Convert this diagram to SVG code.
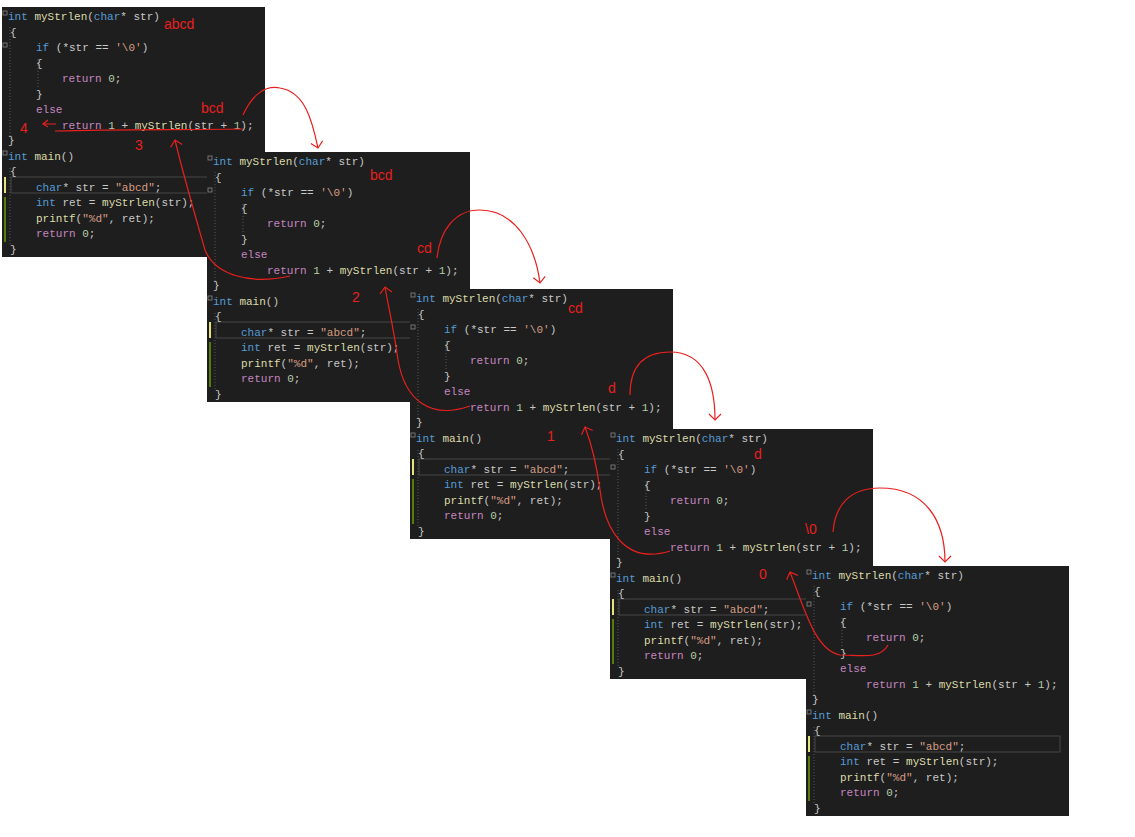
<svg xmlns="http://www.w3.org/2000/svg" xmlns:xlink="http://www.w3.org/1999/xlink" width="1135" height="837" viewBox="0 0 1135 837">
<style>
.c{font-family:"Liberation Mono",monospace;font-size:11px;fill:#c8c8c8}
.k{fill:#569cd6}.r{fill:#c586c0}.f{fill:#dcdcaa}.s{fill:#d69d85}.n{fill:#b5cea8}.v{fill:#b4b4b4}
.red{font-family:"Liberation Sans",sans-serif;font-size:14px;fill:#e8201e}
.ln{fill:none;stroke:#e8201e;stroke-width:1.2}
</style>
<defs>
<marker id="ah" markerWidth="14" markerHeight="14" refX="7" refY="7" orient="auto" markerUnits="userSpaceOnUse"><path d="M1,1 L7,7 L1,13" fill="none" stroke="#e8201e" stroke-width="1.2"/></marker>
<g id="code">
<rect x="0" y="0" width="263" height="250" fill="#1e1e1e"/>
<line x1="8" y1="20" x2="8" y2="130" stroke="#555" stroke-dasharray="1,2"/>
<line x1="8" y1="161" x2="8" y2="238" stroke="#555" stroke-dasharray="1,2"/>
<line x1="36" y1="52" x2="36" y2="82" stroke="#555" stroke-dasharray="1,2"/>
<rect x="1" y="4" width="4" height="4" fill="none" stroke="#888" stroke-width="0.8"/>
<rect x="1" y="36" width="4" height="4" fill="none" stroke="#888" stroke-width="0.8"/>
<rect x="1" y="144" width="4" height="4" fill="none" stroke="#888" stroke-width="0.8"/>
<rect x="9" y="170" width="245" height="16" fill="none" stroke="#464646"/>
<rect x="2" y="170" width="2" height="16" fill="#e6e37a"/>
<rect x="2" y="190" width="2" height="45" fill="#587c0c"/>
<text class="c" xml:space="preserve">
<tspan x="6" y="13"><tspan class="k">int</tspan> <tspan class="f">myStrlen</tspan>(<tspan class="k">char</tspan>* str)</tspan>
<tspan x="8" y="28.5">{</tspan>
<tspan x="34" y="44"><tspan class="k">if</tspan> (*str == <tspan class="s">'\0'</tspan>)</tspan>
<tspan x="34" y="59.5">{</tspan>
<tspan x="60" y="75"><tspan class="r">return</tspan> <tspan class="n">0</tspan>;</tspan>
<tspan x="34" y="90.5">}</tspan>
<tspan x="34" y="106"><tspan class="r">else</tspan></tspan>
<tspan x="60" y="121.5"><tspan class="r">return</tspan> <tspan class="n">1</tspan> + <tspan class="f">myStrlen</tspan>(str + <tspan class="n">1</tspan>);</tspan>
<tspan x="6" y="137">}</tspan>
<tspan x="6" y="152.5"><tspan class="k">int</tspan> <tspan class="f">main</tspan>()</tspan>
<tspan x="8" y="168">{</tspan>
<tspan x="34" y="183.5"><tspan class="k">char</tspan>* str = <tspan class="s">"abcd"</tspan>;</tspan>
<tspan x="34" y="199"><tspan class="k">int</tspan> ret = <tspan class="f">myStrlen</tspan>(str);</tspan>
<tspan x="34" y="214.5"><tspan class="f">printf</tspan>(<tspan class="s">"%d"</tspan>, ret);</tspan>
<tspan x="34" y="230"><tspan class="r">return</tspan> <tspan class="n">0</tspan>;</tspan>
<tspan x="8" y="245.5">}</tspan>
</text>
</g>
</defs>
<rect width="1135" height="837" fill="#fff"/>
<g id="frame1"><use xlink:href="#code" href="#code" transform="translate(2,7)"/></g>
<g id="frame2"><use xlink:href="#code" href="#code" transform="translate(207,152)"/></g>
<g id="frame3"><use xlink:href="#code" href="#code" transform="translate(410,289)"/></g>
<g id="frame4"><use xlink:href="#code" href="#code" transform="translate(610,429)"/></g>
<g id="frame5"><use xlink:href="#code" href="#code" transform="translate(806,566)"/></g>
<g id="labels">
<text class="red" x="164" y="29">abcd</text>
<text class="red" x="201" y="113">bcd</text>
<text class="red" x="20" y="133">4</text>
<text class="red" x="135" y="150">3</text>
<text class="red" x="370" y="180">bcd</text>
<text class="red" x="417" y="253">cd</text>
<text class="red" x="352" y="302">2</text>
<text class="red" x="568" y="313">cd</text>
<text class="red" x="608" y="393">d</text>
<text class="red" x="547" y="441">1</text>
<text class="red" x="754" y="459">d</text>
<text class="red" x="805" y="534">\0</text>
<text class="red" x="759" y="579">0</text>
</g>
<g id="connectors">
<path class="ln" d="M55,131 C120,129 180,130 243,129"/>
<path class="ln" d="M56,124 L44,124 M48,120 L43,124 L48,127"/>
<path class="ln" d="M243,115 C252,95 265,85 280,88 C305,92 312,120 318,148" marker-end="url(#ah)"/>
<path class="ln" d="M290,276 C250,285 215,275 205,250 C195,215 182,170 175,140" marker-end="url(#ah)"/>
<path class="ln" d="M437,258 C440,230 455,210 480,210 C515,210 535,245 540,283" marker-end="url(#ah)"/>
<path class="ln" d="M470,406 C430,420 405,400 398,360 C394,330 388,305 385,287" marker-end="url(#ah)"/>
<path class="ln" d="M630,395 C630,370 640,352 670,352 C705,352 715,385 715,420" marker-end="url(#ah)"/>
<path class="ln" d="M670,551 C625,565 605,530 600,490 C596,460 590,440 585,427" marker-end="url(#ah)"/>
<path class="ln" d="M833,532 C835,505 850,488 880,488 C925,488 945,520 945,562" marker-end="url(#ah)"/>
<path class="ln" d="M888,645 C880,660 860,655 840,655 C815,650 805,610 790,572" marker-end="url(#ah)"/>
</g>
</svg>
